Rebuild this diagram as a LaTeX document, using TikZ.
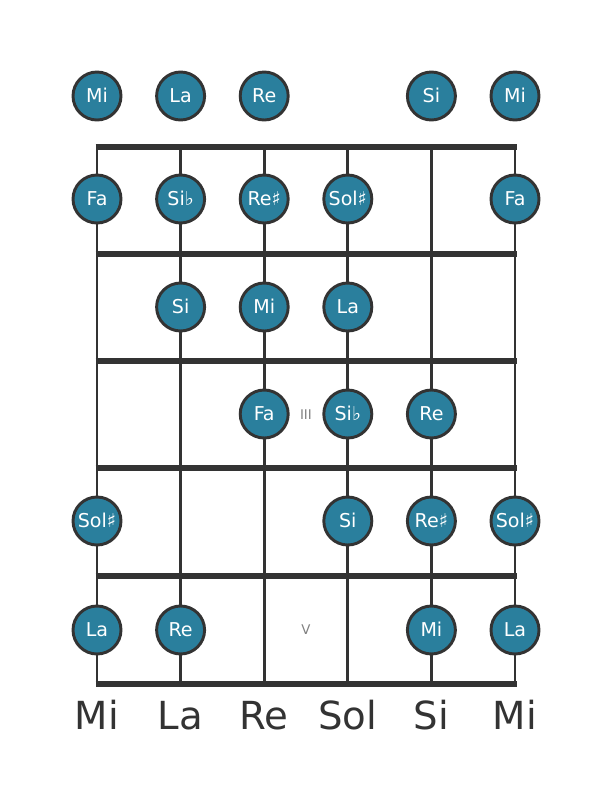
\documentclass[tikz,border=0pt]{standalone}
\usepackage{fontspec}
\setmainfont{DejaVu Sans}
\usepackage{xcolor}

\definecolor{noteblue}{RGB}{42,127,157}
\definecolor{wood}{RGB}{51,51,51}

\begin{document}
\begin{tikzpicture}[x=0.75pt, y=-0.75pt,
    note/.style={circle, draw=wood, fill=noteblue, line width=2.2pt,
        minimum size=36pt, inner sep=0pt, text=white,
        text height=10.4pt, text depth=0pt, font=\fontsize{14.3}{14.3}\selectfont},
    stringline/.style={wood, line width=2.2pt},
    fretline/.style={wood, line width=3.8pt},
    marker/.style={text=gray, font=\fontsize{10}{10}\selectfont},
    stringname/.style={text=wood, text height=21.2pt, text depth=0pt,
        font=\fontsize{29}{29}\selectfont}]

    \useasboundingbox (0,0) rectangle (611,801);

    % Ends of the strings

    \coordinate (s1t) at (97,147);
    \coordinate (s2t) at (180.6,147);
    \coordinate (s3t) at (264.2,147);
    \coordinate (s4t) at (347.8,147);
    \coordinate (s5t) at (431.4,147);
    \coordinate (s6t) at (515,147);

    \coordinate (s1b) at (97,684);
    \coordinate (s2b) at (180.6,684);
    \coordinate (s3b) at (264.2,684);
    \coordinate (s4b) at (347.8,684);
    \coordinate (s5b) at (431.4,684);
    \coordinate (s6b) at (515,684);

    \draw[stringline] (s1t) -- (s1b);
    \draw[stringline] (s2t) -- (s2b);
    \draw[stringline] (s3t) -- (s3b);
    \draw[stringline] (s4t) -- (s4b);
    \draw[stringline] (s5t) -- (s5b);
    \draw[stringline] (s6t) -- (s6b);

    % Frets

    \foreach \f/\y in {0/147, 1/254, 2/361, 3/468, 4/576, 5/684} {
        \coordinate (f\f l) at (95.5,\y);
        \coordinate (f\f r) at (516.5,\y);
        \draw[fretline] (f\f l) -- (f\f r);
    }

    \node[marker] (m3) at (305.9,415) {III};
    \node[marker] (m5) at (305.9,630) {V};

    % Open strings

    \node[note] (n0s1) at (97,96) {Mi};
    \node[note] (n0s2) at (180.6,96) {La};
    \node[note] (n0s3) at (264.2,96) {Re};
    \node[note] (n0s5) at (431.4,96) {Si};
    \node[note] (n0s6) at (515,96) {Mi};

    % Fret 1

    \node[note] (n1s1) at (97,199) {Fa};
    \node[note] (n1s2) at (180.6,199) {Si♭};
    \node[note] (n1s3) at (264.2,199) {Re♯};
    \node[note] (n1s4) at (347.8,199) {Sol♯};
    \node[note] (n1s6) at (515,199) {Fa};

    % Fret 2

    \node[note] (n2s2) at (180.6,307) {Si};
    \node[note] (n2s3) at (264.2,307) {Mi};
    \node[note] (n2s4) at (347.8,307) {La};

    % Fret 3

    \node[note] (n3s3) at (264.2,414) {Fa};
    \node[note] (n3s4) at (347.8,414) {Si♭};
    \node[note] (n3s5) at (431.4,414) {Re};

    % Fret 4

    \node[note] (n4s1) at (97,521) {Sol♯};
    \node[note] (n4s4) at (347.8,521) {Si};
    \node[note] (n4s5) at (431.4,521) {Re♯};
    \node[note] (n4s6) at (515,521) {Sol♯};

    % Fret 5

    \node[note] (n5s1) at (97,630) {La};
    \node[note] (n5s2) at (180.6,630) {Re};
    \node[note] (n5s5) at (431.4,630) {Mi};
    \node[note] (n5s6) at (515,630) {La};

    % Tuning

    \node[stringname] (t1) at (97,715) {Mi};
    \node[stringname] (t2) at (180.6,715) {La};
    \node[stringname] (t3) at (264.2,715) {Re};
    \node[stringname] (t4) at (347.8,715) {Sol};
    \node[stringname] (t5) at (431.4,715) {Si};
    \node[stringname] (t6) at (515,715) {Mi};

\end{tikzpicture}
\end{document}
